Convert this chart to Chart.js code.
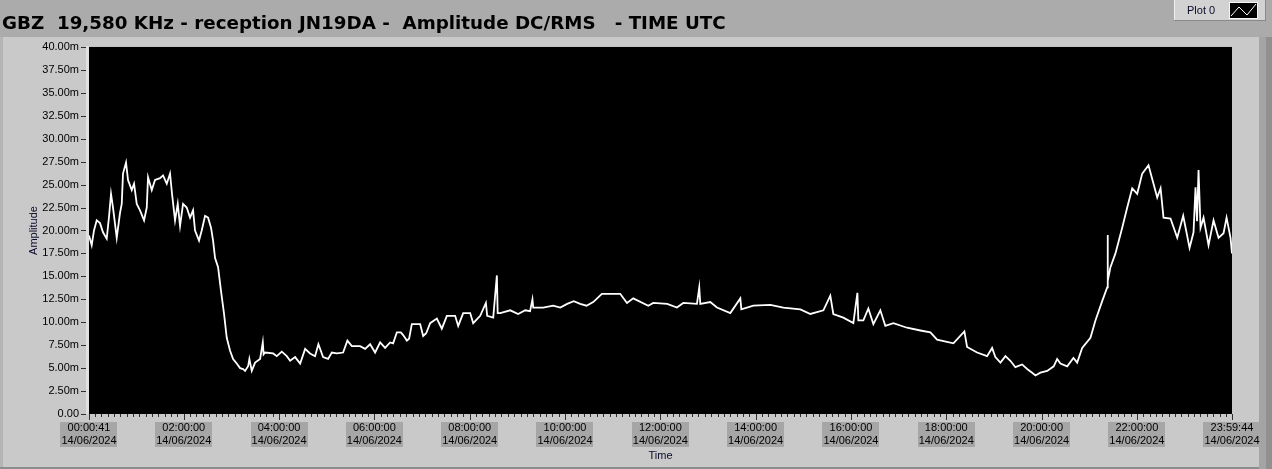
<!DOCTYPE html>
<html><head><meta charset="utf-8">
<script src="https://cdn.jsdelivr.net/npm/chart.js@4.4.1/dist/chart.umd.min.js"></script>
<style>html,body{margin:0;padding:0;background:#ababab;overflow:hidden}canvas{display:block}</style>
</head><body>
<canvas id="c" width="1272" height="469"></canvas>
<script>
const chartTitle = "GBZ  19,580 KHz - reception JN19DA -  Amplitude DC/RMS   - TIME UTC";
const seriesName = "Plot 0";
const yAxisName = "Amplitude";
const xAxisName = "Time";
const dateLabel = "14/06/2024";

// time of each reading, minutes after 00:00 UTC
const timeMinutes = [0.68,4.08,6.98,10.38,14.54,18.3,22.98,25.9,28.4,30.9,35.6,39.7,41.9,43.5,47.3,49.8,54.5,57.4,60.8,64.9,70.0,73.4,75.0,79.7,83.8,90.1,93.9,98.6,102.7,105.2,109.0,112.4,115.3,119.1,123.7,127.9,131.7,134.2,139.2,142.6,146.8,150.6,154.3,156.9,159.4,163.2,166.9,170.7,174.1,178.3,182.1,186.7,190.9,194.7,197.2,201.0,202.6,205.6,209.8,216.1,219.5,220.5,222.4,232.5,237.1,243.4,249.7,253.9,260.2,266.5,272.8,279.0,285.3,289.5,295.4,301.7,306.4,312.7,320.6,326.0,331.6,342.0,348.3,354.6,360.9,367.2,373.5,379.8,383.6,388.3,393.3,396.2,400.9,403.7,407.1,417.6,421.4,425.2,430.2,438.6,444.9,451.2,461.7,465.5,471.8,480.6,484.4,493.2,500.4,502.0,509.6,514.2,515.2,518.4,531.0,541.0,549.9,556.0,559.0,560.0,572.5,585.1,594.0,602.7,611.0,619.1,627.0,635.5,646.4,660.7,669.5,678.0,685.9,704.8,711.1,728.7,740.9,748.9,766.1,769.0,770.3,782.9,791.3,808.1,820.7,822.0,837.1,858.5,874.9,896.3,908.9,925.3,934.0,937.8,950.4,963.0,968.1,969.3,975.6,981.9,988.2,997.0,1003.3,1013.4,1030.6,1047.4,1060.0,1068.4,1089.0,1102.8,1106.2,1118.8,1131.4,1137.7,1141.8,1148.2,1154.5,1160.7,1167.0,1175.5,1181.8,1188.1,1192.3,1198.5,1207.0,1215.3,1219.6,1223.7,1232.2,1240.1,1244.8,1251.1,1261.5,1267.8,1276.3,1282.6,1283.0,1283.6,1286.7,1293.0,1301.5,1307.8,1314.1,1320.4,1326.7,1334.6,1340.9,1345.6,1349.8,1353.5,1362.3,1370.8,1378.3,1386.3,1391.3,1393.8,1395.7,1397.6,1400.1,1403.9,1410.2,1416.5,1422.8,1429.1,1432.9,1437.9,1439.7];
// amplitude readings, in milli-units (m)
const amplitudeMilli = [19.45,18.4,20.0,21.1,20.8,19.8,19.1,21.5,24.0,22.5,19.2,21.9,22.9,26.2,27.4,25.5,24.4,25.1,22.9,22.2,21.1,22.5,25.8,24.4,25.5,25.7,26.0,25.1,26.2,24.0,21.1,22.9,20.5,22.9,22.5,21.4,22.2,20.0,18.9,20.0,21.6,21.4,20.3,18.9,17.0,16.0,13.4,10.9,8.3,6.9,6.0,5.5,5.0,4.9,4.7,5.2,6.0,4.7,5.6,6.0,7.8,6.5,6.7,6.6,6.3,6.8,6.3,5.8,6.2,5.5,7.1,6.6,6.3,7.6,6.2,6.0,6.7,6.6,6.7,8.0,7.4,7.4,7.1,7.6,6.7,7.8,7.2,7.8,7.7,8.9,8.9,8.6,8.0,8.2,9.8,9.8,8.5,8.8,9.9,10.4,9.3,10.7,10.7,9.6,11.0,11.0,9.9,10.7,12.1,10.7,10.5,15.1,11.0,11.0,11.3,10.9,11.3,11.2,12.5,11.6,11.6,11.8,11.6,12.0,12.3,12.0,11.8,12.2,13.1,13.1,13.1,12.1,12.6,11.8,12.1,12.0,11.6,12.1,12.0,13.8,12.0,12.2,11.6,11.0,12.6,11.4,11.8,11.9,11.6,11.4,10.9,11.3,12.9,10.9,10.5,9.9,13.2,10.2,10.2,11.5,9.8,11.3,9.6,9.9,9.4,9.1,8.9,8.1,7.7,9.0,7.3,6.7,6.3,7.2,6.2,5.6,6.3,5.8,5.1,5.4,4.9,4.5,4.2,4.5,4.7,5.2,6.0,5.5,5.2,6.1,5.6,7.2,8.3,10.2,12.3,13.8,19.5,14.5,16.0,17.5,20.3,22.5,24.6,24.0,26.2,27.1,25.1,23.6,24.6,21.4,21.3,19.2,21.6,18.1,19.8,24.7,21.0,26.6,20.3,21.4,18.4,21.1,19.2,19.7,21.4,19.2,17.5];

const xTickMinutes = [0.683,120,240,360,480,600,720,840,960,1080,1200,1320,1439.733];
const xTickLabels = ["00:00:41","02:00:00","04:00:00","06:00:00","08:00:00","10:00:00","12:00:00","14:00:00","16:00:00","18:00:00","20:00:00","22:00:00","23:59:44"];
const xMinorStep = 8; // minutes between small ticks
const yTickValues = [0,2.5,5,7.5,10,12.5,15,17.5,20,22.5,25,27.5,30,32.5,35,37.5,40];
const yTickLabels = ["0.00","2.50m","5.00m","7.50m","10.00m","12.50m","15.00m","17.50m","20.00m","22.50m","25.00m","27.50m","30.00m","32.50m","35.00m","37.50m","40.00m"];

const FONT = "'Liberation Sans', Arial, sans-serif";
const TICK_FONT = '11px ' + FONT;

const panelPlugin = {
  id: 'panel',
  beforeDraw(chart) {
    const ctx = chart.ctx, W = chart.width, H = chart.height, a = chart.chartArea;
    const xs = chart.scales.x;
    ctx.save();
    ctx.fillStyle = '#ababab'; ctx.fillRect(0, 0, W, H);
    ctx.fillStyle = '#c9c9c9'; ctx.fillRect(0, 37, 1259, 430);
    ctx.fillStyle = '#a4a4a4'; ctx.fillRect(1259, 37, 7, 432);
    ctx.fillStyle = '#909090'; ctx.fillRect(1266, 37, 6, 432);
    ctx.fillStyle = '#8c8c8c'; ctx.fillRect(0, 467, 1259, 2);
    ctx.fillStyle = '#b5b5b5'; ctx.fillRect(0, 37, 3, 430);
    ctx.fillStyle = '#e0e0e0'; ctx.fillRect(a.left - 3, a.top - 1, 3, a.bottom - a.top + 1);
    ctx.fillStyle = '#000000'; ctx.fillRect(a.left, a.top, a.right - a.left, a.bottom - a.top);
    ctx.font = TICK_FONT;
    ctx.fillStyle = '#a6a6a6';
    xs.ticks.forEach((t, i) => {
      const cx = xs.getPixelForValue(t.value);
      const w = Math.max(ctx.measureText(xTickLabels[i]).width, ctx.measureText(dateLabel).width) + 2;
      ctx.fillRect(Math.round(cx - w / 2), a.bottom + 8, Math.round(w), 25);
    });
    ctx.restore();
  },
  afterDraw(chart) {
    const ctx = chart.ctx, a = chart.chartArea;
    const xs = chart.scales.x, ys = chart.scales.y;
    ctx.save();
    ctx.strokeStyle = '#303030'; ctx.lineWidth = 1;
    ctx.beginPath();
    ys.ticks.forEach(t => {
      const py = Math.round(ys.getPixelForValue(t.value)) + 0.5;
      ctx.moveTo(a.left - 8, py); ctx.lineTo(a.left - 3, py);
    });
    for (let m = xMinorStep; m < xs.max; m += xMinorStep) {
      const px = Math.round(xs.getPixelForValue(m)) + 0.5;
      ctx.moveTo(px, a.bottom); ctx.lineTo(px, a.bottom + 3);
    }
    xs.ticks.forEach(t => {
      const px = Math.round(xs.getPixelForValue(t.value)) + 0.5;
      ctx.moveTo(px, a.bottom); ctx.lineTo(px, a.bottom + 6);
    });
    ctx.stroke();
    ctx.fillStyle = '#d2d2d2'; ctx.fillRect(1174, 0, 91, 20);
    ctx.fillStyle = '#8a8a8a'; ctx.fillRect(1174, 20, 92, 1); ctx.fillRect(1265, 0, 1, 21);
    ctx.fillStyle = '#f0f0f0'; ctx.fillRect(1174, 0, 1, 20);
    ctx.font = TICK_FONT; ctx.fillStyle = '#0a0a2a'; ctx.textBaseline = 'middle'; ctx.textAlign = 'left';
    ctx.fillText(chart.data.datasets[0].label, 1187, 10.5);
    ctx.fillStyle = '#f4f4f4'; ctx.fillRect(1229, 2, 29, 17);
    ctx.fillStyle = '#000'; ctx.fillRect(1230, 3, 27, 15);
    ctx.strokeStyle = '#fff'; ctx.lineWidth = 1;
    ctx.beginPath(); ctx.moveTo(1231, 16); ctx.lineTo(1239, 7); ctx.lineTo(1247, 15); ctx.lineTo(1256, 4); ctx.stroke();
    ctx.restore();
  }
};

const points = timeMinutes.map((t, i) => ({x: t, y: amplitudeMilli[i]}));

new Chart(document.getElementById('c'), {
  type: 'line',
  data: { datasets: [{ label: seriesName, data: points, borderColor: '#ffffff', borderWidth: 1.8, pointRadius: 0, tension: 0, fill: false }] },
  options: {
    responsive: false, devicePixelRatio: 1, animation: false,
    layout: { padding: { left: 2, right: 40, top: 0, bottom: 0 } },
    plugins: {
      legend: { display: false }, tooltip: { enabled: false },
      title: { display: true, text: chartTitle, align: 'start', color: '#000',
        font: { family: "'DejaVu Sans', sans-serif", size: 18.3, weight: 'bold', lineHeight: 1.2 }, padding: { top: 13.3, bottom: 11.7 } }
    },
    scales: {
      x: { type: 'linear', min: xTickMinutes[0], max: xTickMinutes[xTickMinutes.length - 1],
        afterBuildTicks: s => { s.ticks = xTickMinutes.map(v => ({ value: v })); },
        afterFit: s => { s.height = 55; },
        grid: { drawOnChartArea: false, drawTicks: true, tickLength: 6, tickColor: 'rgba(0,0,0,0)', color: 'rgba(0,0,0,0)' },
        border: { display: false },
        ticks: { autoSkip: false, maxRotation: 0, minRotation: 0, padding: 1, color: '#000',
          font: { family: FONT, size: 11, lineHeight: 1.2 },
          callback: (v, i) => [xTickLabels[i], dateLabel] },
        title: { display: true, text: xAxisName, color: '#0a0a2a', font: { family: FONT, size: 11 }, padding: { top: 0, bottom: 6 } }
      },
      y: { type: 'linear', min: 0, max: 40,
        afterBuildTicks: s => { s.ticks = yTickValues.map(v => ({ value: v })); },
        afterFit: s => { s.width = 87; },
        grid: { drawOnChartArea: false, drawTicks: true, tickLength: 8, tickColor: 'rgba(0,0,0,0)', color: 'rgba(0,0,0,0)' },
        border: { display: false },
        ticks: { autoSkip: false, padding: 2, color: '#000', font: { family: FONT, size: 11 },
          callback: (v, i) => yTickLabels[i] },
        title: { display: true, text: yAxisName, color: '#0a0a2a', font: { family: FONT, size: 11 }, padding: { top: 25, bottom: 0 } }
      }
    }
  },
  plugins: [panelPlugin]
});
</script>
</body></html>
